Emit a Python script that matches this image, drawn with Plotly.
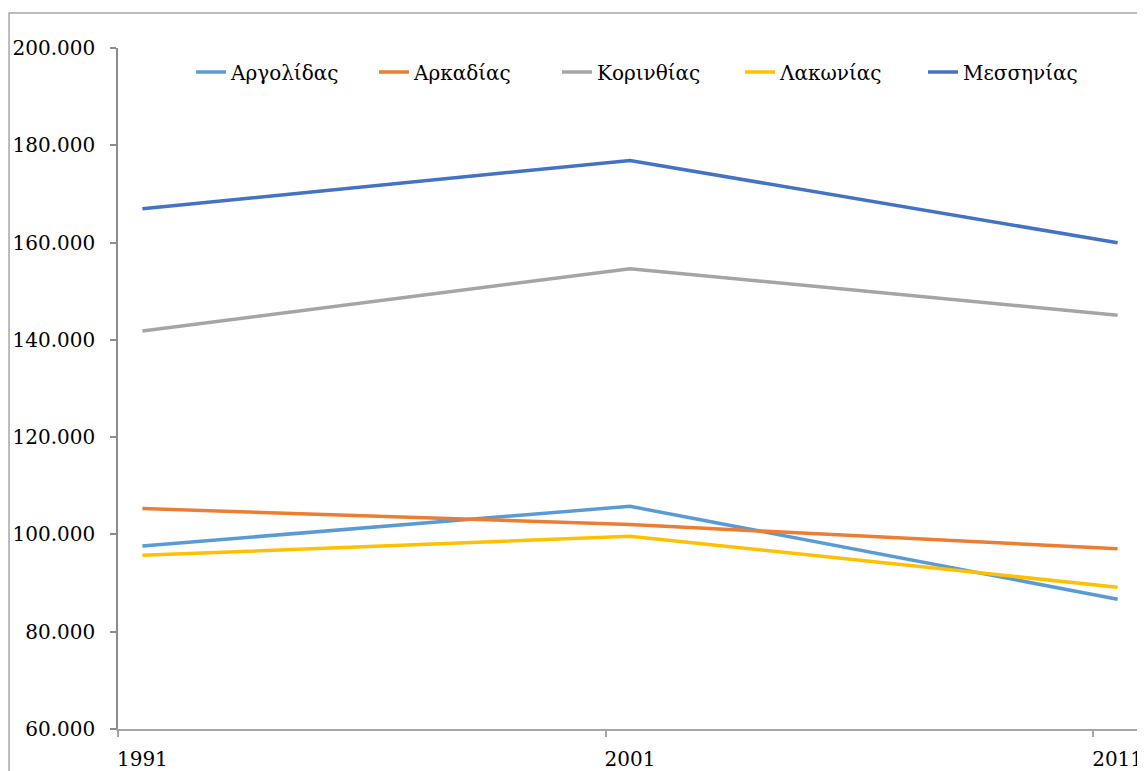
import plotly.graph_objects as go

years = [1991, 2001, 2011]
series_names = ["Αργολίδας", "Αρκαδίας", "Κορινθίας", "Λακωνίας", "Μεσσηνίας"]
argolidas = [97636, 105770, 86685]
arkadias = [105309, 102035, 97044]
korinthias = [141823, 154624, 145082]
lakonias = [95696, 99637, 89138]
messinias = [166964, 176876, 159954]
colors = ["#5B9BD5", "#ED7D31", "#A5A5A5", "#FFC000", "#4472C4"]
y_ticks = [60000, 80000, 100000, 120000, 140000, 160000, 180000, 200000]

values = [argolidas, arkadias, korinthias, lakonias, messinias]
font_family = "DejaVu Serif"

fig = go.Figure()
for name, vals, col in zip(series_names, values, colors):
    fig.add_trace(go.Scatter(x=years, y=vals, name=name, mode="lines",
                             line=dict(color=col, width=3.5)))

# page has an 8px body margin, so figure coordinates = page - 8
OFF = 8
W, H = 1145 - OFF, 771 - OFF
ml = 118 - OFF
mt = 48 - OFF
plot_bottom = 729 - OFF
plot_right = 1142.4 - OFF
mr = W - plot_right
mb = H - plot_bottom
pw = W - ml - mr
ph = H - mt - mb

fig.update_layout(
    width=W, height=H,
    margin=dict(l=ml, r=mr, t=mt, b=mb, autoexpand=False),
    paper_bgcolor="white", plot_bgcolor="white",
    separators=",.",
    font=dict(family=font_family, size=20, color="#000000"),
    showlegend=True,
    legend=dict(orientation="h", x=(183 - ml) / pw, xanchor="left",
                y=(plot_bottom - 64) / ph, yanchor="middle",
                font=dict(family=font_family, size=20, color="#000000"),
                bgcolor="rgba(0,0,0,0)", itemwidth=30, entrywidth=138),
    xaxis=dict(range=[1990.5, 2011.5], tickvals=years, ticktext=[str(y) for y in years],
               ticks="", showgrid=False, zeroline=False, showline=True,
               linecolor="#A6A6A6", linewidth=1.5,
               minor=dict(tick0=1990.5, dtick=10, ticks="outside", ticklen=6,
                          tickcolor="#A6A6A6", tickwidth=1.5, showgrid=False),
               ticklabelstandoff=11,
               tickfont=dict(family=font_family, size=20)),
    yaxis=dict(range=[60000, 200000], tickvals=y_ticks, tickformat=",d",
               ticks="outside", ticklen=6, tickcolor="#8C8C8C", tickwidth=1.5,
               showgrid=False, zeroline=False, showline=True,
               linecolor="#8C8C8C", linewidth=1.5, ticklabelstandoff=11,
               tickfont=dict(family=font_family, size=20)),
    shapes=[dict(type="rect", xref="paper", yref="paper",
                 x0=(9 - OFF - ml) / pw, x1=(1142 - OFF - ml) / pw,
                 y0=(plot_bottom - 800) / ph, y1=(plot_bottom - (13 - OFF)) / ph,
                 line=dict(color="#A6A6A6", width=1.5), fillcolor="rgba(0,0,0,0)",
                 layer="below")],
)

fig.write_html("out.html")
